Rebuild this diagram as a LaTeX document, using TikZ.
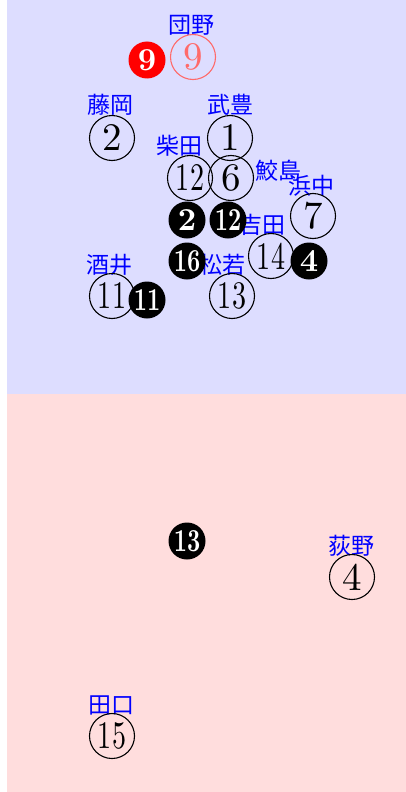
\documentclass[tikz,border=0pt]{standalone}
\usepackage{fontspec}
\usepackage{graphicx}
\usetikzlibrary{positioning}
\newfontfamily\jpfont{Noto Sans CJK JP}
\newfontfamily\digfont{lmroman10-regular.otf}[BoldFont=lmroman10-bold.otf]
\definecolor{bgblue}{HTML}{DDDDFF}
\definecolor{bgpink}{HTML}{FFDDDD}
\definecolor{nameblue}{HTML}{0000FF}
\definecolor{salmon}{HTML}{FF6A6A}
\newcommand{\twodig}[1]{\scalebox{0.72}[1]{#1}}

\begin{document}
\begin{tikzpicture}[x=1pt, y=-1pt,
  horse/.style={circle, draw=#1, text=#1, line width=1.1pt, minimum size=45pt, inner sep=0pt, font=\digfont\fontsize{39}{39}\selectfont},
  horse/.default=black,
  pick/.style={circle, fill=#1, text=white, minimum size=37pt, inner sep=0pt, font=\digfont\fontsize{32}{32}\selectfont\bfseries},
  pick/.default=black,
  jname/.style={text=nameblue, inner sep=0pt, font=\jpfont\fontsize{23}{23}\selectfont},
]
  \useasboundingbox (0,0) rectangle (406,792);
  \fill[bgblue] (7,0) rectangle (406,394);
  \fill[bgpink] (7,394) rectangle (406,792);

  % names
  \node[jname] (tDanno) at (191, 25) {団野};
  \node[jname] (tFujioka) at (110, 105) {藤岡};
  \node[jname] (tTake) at (230, 105) {武豊};
  \node[jname] (tShibata) at (179, 146) {柴田};
  \node[jname] (tSamejima) at (278, 171) {鮫島};
  \node[jname] (tHamanaka) at (311, 186) {浜中};
  \node[jname] (tYoshida) at (262, 225) {吉田};
  \node[jname] (tSakai) at (109, 265) {酒井};
  \node[jname] (tMatsuwaka) at (222, 265) {松若};
  \node[jname] (tOgino) at (351, 546) {荻野};
  \node[jname] (tTaguchi) at (111, 705) {田口};

  % upper half
  \node[pick=red] (b9) at (147, 60) {9};
  \node[horse=salmon] (h9) at (193, 57) {9};
  \node[horse] (h2) at (112, 138) {2};
  \node[horse] (h1) at (230, 138) {1};
  \node[horse] (h12) at (190, 178) {\twodig{12}};
  \node[horse] (h6) at (231, 178) {6};
  \node[horse] (h7) at (313, 216) {7};
  \node[pick] (b2) at (187, 220) {2};
  \node[pick] (b12) at (228, 220) {\twodig{12}};
  \node[pick] (b16) at (187, 261) {\twodig{16}};
  \node[horse] (h14) at (271, 256) {\twodig{14}};
  \node[pick] (b4) at (309, 261) {4};
  \node[horse] (h11) at (112, 296) {\twodig{11}};
  \node[pick] (b11) at (147, 300) {\twodig{11}};
  \node[horse] (h13) at (232, 296) {\twodig{13}};

  % lower half
  \node[pick] (b13) at (187, 541) {\twodig{13}};
  \node[horse] (h4) at (352, 577) {4};
  \node[horse] (h15) at (112, 736) {\twodig{15}};
\end{tikzpicture}
\end{document}
